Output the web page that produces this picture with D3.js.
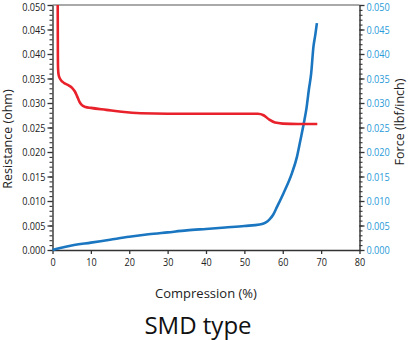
<!DOCTYPE html>
<html>
<head>
<meta charset="utf-8">
<script src="https://cdn.jsdelivr.net/npm/d3@7/dist/d3.min.js"></script>
<style>
  html, body { margin: 0; padding: 0; background: #fff; }
  svg { display: block; }
  .tick text { font-family: "Open Sans", sans-serif; }
</style>
</head>
<body>
<svg id="chart" width="410" height="340"></svg>
<script>
// Compression (%) vs. resistance (ohm), red curve
const resCompression = [1.36, 1.38, 1.40, 1.45, 1.6, 2.0, 3.0, 4.2, 5.1, 5.8, 6.4, 7.0, 7.6, 8.6, 10, 14, 18, 23, 30, 40, 53.5, 55, 56.5, 58, 60, 64, 69];
const resistance     = [0.050, 0.045, 0.040, 0.037, 0.0357, 0.0349, 0.0341, 0.0336, 0.0331, 0.0324, 0.0314, 0.0303, 0.0296, 0.0292, 0.0290, 0.0286, 0.0282, 0.0279, 0.0278, 0.0278, 0.0278, 0.0275, 0.0266, 0.0260, 0.0258, 0.0257, 0.0257];

// Compression (%) vs. force (lbf/inch), blue curve
const forceCompression = [0, 2, 5, 10, 15, 20, 25, 30, 35, 40, 45, 50, 54, 55.5, 56.5, 57.5, 58.5, 60.2, 62.4, 63.7, 64.6, 65.5, 66.2, 66.8, 67.4, 68.0, 68.5, 68.9];
const force            = [0, 0.0004, 0.0009, 0.0015, 0.0021, 0.0027, 0.0032, 0.0036, 0.0040, 0.0043, 0.0046, 0.0049, 0.0052, 0.0056, 0.0062, 0.0072, 0.0088, 0.0116, 0.0157, 0.0190, 0.0224, 0.0259, 0.0290, 0.0327, 0.0360, 0.0415, 0.0440, 0.0463];

const xTicks = [0, 10, 20, 30, 40, 50, 60, 70, 80];
const yTicks = [0, 0.005, 0.010, 0.015, 0.020, 0.025, 0.030, 0.035, 0.040, 0.045, 0.050];
const yMinorTicks = d3.range(0, 51).map(i => i / 1000);

const svg = d3.select("#chart");
const m = { left: 52.5, right: 359.5, top: 5, bottom: 250 };

const x = d3.scaleLinear().domain([0, 80]).range([m.left, m.right]);
const yL = d3.scaleLinear().domain([0, 0.05]).range([m.bottom, m.top]);
const yR = d3.scaleLinear().domain([0, 0.05]).range([m.bottom, m.top]);

const axisColor = "#333";
const blueText = "#2a9bd8";

// Top frame line
svg.append("line")
  .attr("x1", m.left).attr("x2", m.right)
  .attr("y1", m.top).attr("y2", m.top)
  .attr("stroke", "#555").attr("stroke-width", 1.2);

// Condensed tick labels: squeeze each label to a narrow width
function styleAxis(g, textColor, charWidth) {
  g.select(".domain").attr("stroke", axisColor).attr("stroke-width", 1.4);
  g.selectAll(".tick line").attr("stroke", axisColor).attr("stroke-width", 1.3);
  g.selectAll(".tick text")
    .attr("fill", textColor)
    .attr("font-size", 11.5)
    .attr("textLength", function () {
      const s = this.textContent;
      const dots = (s.match(/\./g) || []).length;
      return (s.length - dots) * charWidth + dots * 2.5;
    })
    .attr("lengthAdjust", "spacingAndGlyphs");
}

// Keep the topmost y label inside the canvas
function nudgeTop(g) {
  g.selectAll(".tick").filter(d => d === 0.05).select("text").attr("dy", "0.5em");
}

// Left minor ticks
svg.append("g")
  .attr("transform", `translate(${m.left},0)`)
  .call(d3.axisLeft(yL).tickValues(yMinorTicks).tickSize(3).tickFormat(""))
  .call(g => { g.select(".domain").remove(); g.selectAll(".tick line").attr("stroke", axisColor).attr("stroke-width", 1.1); });

// Left axis
const gL = svg.append("g")
  .attr("transform", `translate(${m.left},0)`)
  .call(d3.axisLeft(yL).tickValues(yTicks).tickSize(5).tickSizeOuter(0).tickPadding(2).tickFormat(d3.format(".3f")));
styleAxis(gL, "#222", 5.2);
nudgeTop(gL);

// Right minor ticks
svg.append("g")
  .attr("transform", `translate(${m.right},0)`)
  .call(d3.axisRight(yR).tickValues(yMinorTicks).tickSize(3).tickFormat(""))
  .call(g => { g.select(".domain").remove(); g.selectAll(".tick line").attr("stroke", axisColor).attr("stroke-width", 1.1); });

// Right axis
const gR = svg.append("g")
  .attr("transform", `translate(${m.right},0)`)
  .call(d3.axisRight(yR).tickValues(yTicks).tickSize(5).tickSizeOuter(0).tickPadding(2).tickFormat(d3.format(".3f")));
styleAxis(gR, blueText, 5.2);
nudgeTop(gR);

// Bottom axis
const gX = svg.append("g")
  .attr("transform", `translate(0,${m.bottom})`)
  .call(d3.axisBottom(x).tickValues(xTicks).tickSize(4).tickSizeOuter(0).tickPadding(4));
styleAxis(gX, "#222", 5.2);

// Curves
const resLine = d3.line()
  .x((d, i) => x(resCompression[i]))
  .y(d => yL(d))
  .curve(d3.curveMonotoneX);

const forceLine = d3.line()
  .x((d, i) => x(forceCompression[i]))
  .y(d => yR(d))
  .curve(d3.curveMonotoneX);

svg.append("path")
  .datum(force)
  .attr("d", forceLine)
  .attr("fill", "none")
  .attr("stroke", "#1a76c0")
  .attr("stroke-width", 2.6)
  .attr("stroke-linejoin", "round");

svg.append("path")
  .datum(resistance)
  .attr("d", resLine)
  .attr("fill", "none")
  .attr("stroke", "#e8212b")
  .attr("stroke-width", 2.6)
  .attr("stroke-linejoin", "round");

// Axis titles
svg.append("text")
  .attr("transform", "translate(12,139) rotate(-90)")
  .attr("text-anchor", "middle")
  .attr("font-family", "'Open Sans', sans-serif")
  .attr("font-size", 12.5)
  .attr("fill", "#222")
  .text("Resistance (ohm)");

svg.append("text")
  .attr("transform", "translate(404,122) rotate(-90)")
  .attr("text-anchor", "middle")
  .attr("font-family", "'Open Sans', sans-serif")
  .attr("font-size", 12.5)
  .attr("fill", "#222")
  .text("Force (lbf/inch)");

svg.append("text")
  .attr("x", 206).attr("y", 298)
  .attr("text-anchor", "middle")
  .attr("font-family", "'Open Sans', sans-serif")
  .attr("font-size", 13)
  .attr("fill", "#222")
  .text("Compression (%)");

svg.append("text")
  .attr("x", 198).attr("y", 334)
  .attr("text-anchor", "middle")
  .attr("font-family", "'Open Sans', sans-serif")
  .attr("font-size", 24)
  .attr("fill", "#111")
  .text("SMD type");
</script>
</body>
</html>
